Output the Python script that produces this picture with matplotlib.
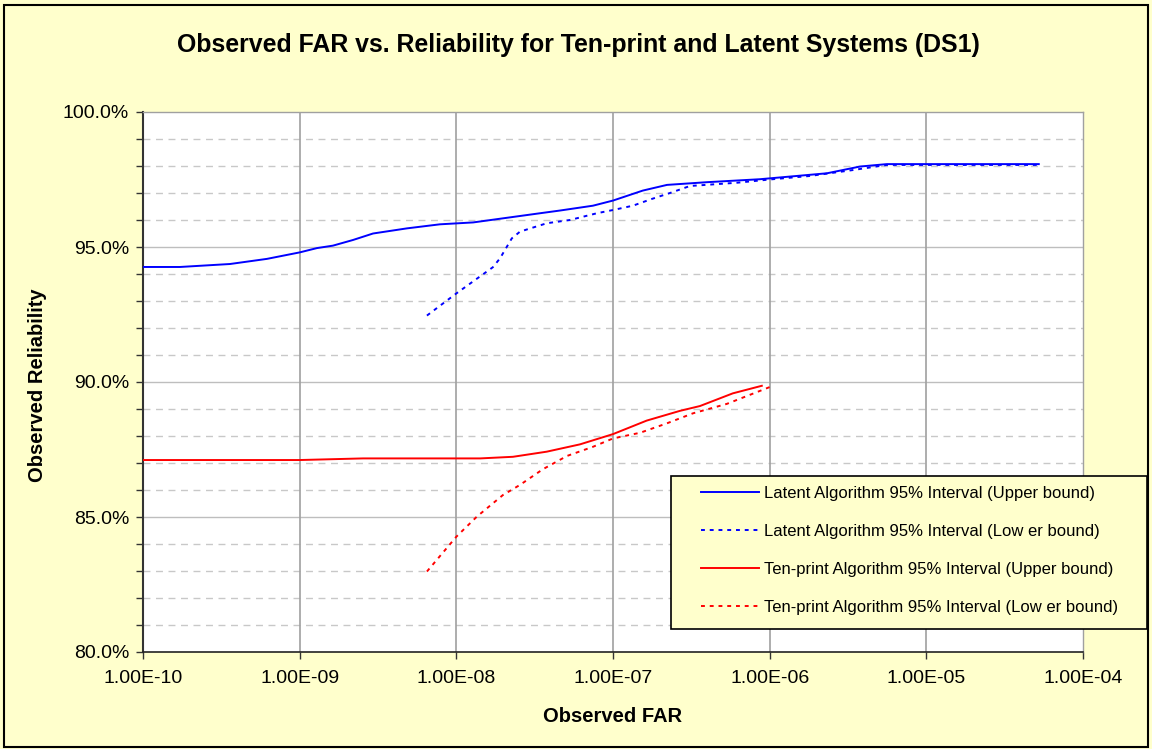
import matplotlib
matplotlib.use("Agg")
import matplotlib.pyplot as plt
from matplotlib.ticker import FixedLocator, FuncFormatter, NullFormatter
from matplotlib.patches import Rectangle
from matplotlib.lines import Line2D

plt.rcParams['font.family'] = ['Liberation Sans', 'DejaVu Sans']

title = "Observed FAR vs. Reliability for Ten-print and Latent Systems (DS1)"
x_label = "Observed FAR"
y_label = "Observed Reliability"

latent_upper_far = [1.0e-10, 1.72e-10, 3.59e-10, 6.18e-10, 1.0e-9, 1.29e-9, 1.63e-9, 2.19e-9,
                    2.94e-9, 4.84e-9, 7.85e-9, 1.28e-8, 3.42e-8, 4.58e-8, 7.45e-8, 1.0e-7,
                    1.55e-7, 2.21e-7, 3.97e-7, 8.65e-7, 2.32e-6, 3.77e-6, 5.60e-6, 5.22e-5]
latent_upper_rel = [94.26, 94.26, 94.37, 94.56, 94.80, 94.96, 95.05, 95.26,
                    95.50, 95.69, 95.84, 95.91, 96.25, 96.35, 96.53, 96.72,
                    97.09, 97.30, 97.40, 97.51, 97.73, 97.98, 98.07, 98.07]

latent_lower_far = [6.49e-9, 1.0e-8, 1.71e-8, 1.90e-8, 2.26e-8, 2.55e-8, 3.78e-8, 5.31e-8,
                    7.89e-8, 1.0e-7, 1.34e-7, 1.77e-7, 2.31e-7, 3.10e-7, 6.18e-7, 1.0e-6,
                    1.80e-6, 3.40e-6, 5.60e-6, 5.22e-5]
latent_lower_rel = [92.46, 93.28, 94.25, 94.58, 95.32, 95.57, 95.88, 96.00,
                    96.25, 96.37, 96.53, 96.78, 97.00, 97.26, 97.38, 97.50,
                    97.63, 97.85, 98.04, 98.04]

ten_upper_far = [1.0e-10, 1.0e-9, 2.54e-9, 1.42e-8, 2.30e-8, 3.78e-8, 6.15e-8, 1.0e-7,
                 1.64e-7, 2.67e-7, 3.59e-7, 5.82e-7, 8.91e-7]
ten_upper_rel = [87.11, 87.11, 87.17, 87.17, 87.23, 87.42, 87.69, 88.07,
                 88.57, 88.93, 89.11, 89.58, 89.86]

ten_lower_far = [6.49e-9, 1.0e-8, 1.35e-8, 1.98e-8, 2.55e-8, 3.57e-8, 5.08e-8, 7.45e-8,
                 1.0e-7, 1.49e-7, 2.21e-7, 3.24e-7, 5.33e-7, 1.05e-6]
ten_lower_rel = [82.98, 84.27, 85.01, 85.81, 86.19, 86.77, 87.26, 87.60,
                 87.91, 88.12, 88.47, 88.84, 89.19, 89.86]

series_labels = ["Latent Algorithm 95% Interval (Upper bound)",
                 "Latent Algorithm 95% Interval (Low er bound)",
                 "Ten-print Algorithm 95% Interval (Upper bound)",
                 "Ten-print Algorithm 95% Interval (Low er bound)"]

x_ticks = [1e-10, 1e-9, 1e-8, 1e-7, 1e-6, 1e-5, 1e-4]
x_tick_labels = ["1.00E-10", "1.00E-09", "1.00E-08", "1.00E-07", "1.00E-06", "1.00E-05", "1.00E-04"]
y_major = [80, 85, 90, 95, 100]
y_minor = [81, 82, 83, 84, 86, 87, 88, 89, 91, 92, 93, 94, 96, 97, 98, 99]

BG = "#FFFFCC"
W, H = 1152, 749
fig = plt.figure(figsize=(11.52, 7.49), dpi=100, facecolor=BG)
ax = fig.add_axes([143/W, 1-652/H, (1083-143)/W, (652-112)/H])
ax.set_facecolor("white")
ax.set_xscale("log")
ax.set_xlim(1e-10, 1e-4)
ax.set_ylim(80, 100)

# grid
for y in y_minor:
    ax.axhline(y, color="#C8C8C8", lw=1.0, dashes=(5, 4), zorder=1)
for y in y_major[1:-1]:
    ax.axhline(y, color="#BEBEBE", lw=1.0, zorder=1)
for x in x_ticks[1:-1]:
    ax.axvline(x, color="#A0A0A0", lw=1.2, zorder=1)

lw = 1.4
dot = (2, 2.5)
ax.plot(latent_upper_far, latent_upper_rel, color="#0000FF", lw=lw, zorder=3)
ax.plot(latent_lower_far, latent_lower_rel, color="#0000FF", lw=lw, dashes=dot, zorder=3)
ax.plot(ten_upper_far, ten_upper_rel, color="#FF0000", lw=lw, zorder=3)
ax.plot(ten_lower_far, ten_lower_rel, color="#FF0000", lw=lw, dashes=dot, zorder=3)

ax.xaxis.set_major_locator(FixedLocator(x_ticks))
ax.xaxis.set_minor_locator(FixedLocator([]))
ax.set_xticklabels(x_tick_labels)
ax.xaxis.set_minor_formatter(NullFormatter())
ax.yaxis.set_major_locator(FixedLocator(y_major))
ax.yaxis.set_minor_locator(FixedLocator(y_minor))
ax.yaxis.set_major_formatter(FuncFormatter(lambda v, p: f"{v:.1f}%"))
ax.tick_params(axis="both", which="both", direction="out", length=5, width=1.0,
               color="#333333", labelsize=14, labelcolor="black")
ax.tick_params(axis="x", pad=8)
ax.tick_params(axis="y", pad=5)

for s in ["top", "right"]:
    ax.spines[s].set_color("#A0A0A0")
    ax.spines[s].set_linewidth(1.0)
ax.spines["left"].set_color("#333333")
ax.spines["left"].set_linewidth(1.5)
ax.spines["bottom"].set_color("#222222")
ax.spines["bottom"].set_linewidth(1.2)

fig.text(578/W, 1-45/H, title, ha="center", va="center", fontsize=17.9, fontweight="bold")
fig.text(613/W, 1-717/H, x_label, ha="center", va="center", fontsize=14.5, fontweight="bold")
fig.text(38/W, 1-385/H, y_label, ha="center", va="center", rotation=90, fontsize=14.5, fontweight="bold")

# legend box
fig.patches.append(Rectangle((671/W, 1-629/H), (1147-671)/W, (629-476)/H, transform=fig.transFigure,
                             facecolor=BG, edgecolor="black", lw=1.2, zorder=5))
handles = [Line2D([], [], color="#0000FF", lw=1.4),
           Line2D([], [], color="#0000FF", lw=1.4, dashes=dot),
           Line2D([], [], color="#FF0000", lw=1.4),
           Line2D([], [], color="#FF0000", lw=1.4, dashes=dot)]
leg = fig.legend(handles, series_labels, loc="upper left",
                 bbox_to_anchor=(701/W, 1-486/H), bbox_transform=fig.transFigure,
                 frameon=False, fontsize=12,
                 handlelength=3.5, handletextpad=0.3, labelspacing=1.38,
                 borderpad=0, borderaxespad=0)
leg.set_zorder(6)

fig.patches.append(Rectangle((4/W, 2/H), 1144/W, 742/H, transform=fig.transFigure,
                             fill=False, edgecolor="black", lw=1.5))

fig.savefig("out.png", dpi=100, facecolor=BG)
